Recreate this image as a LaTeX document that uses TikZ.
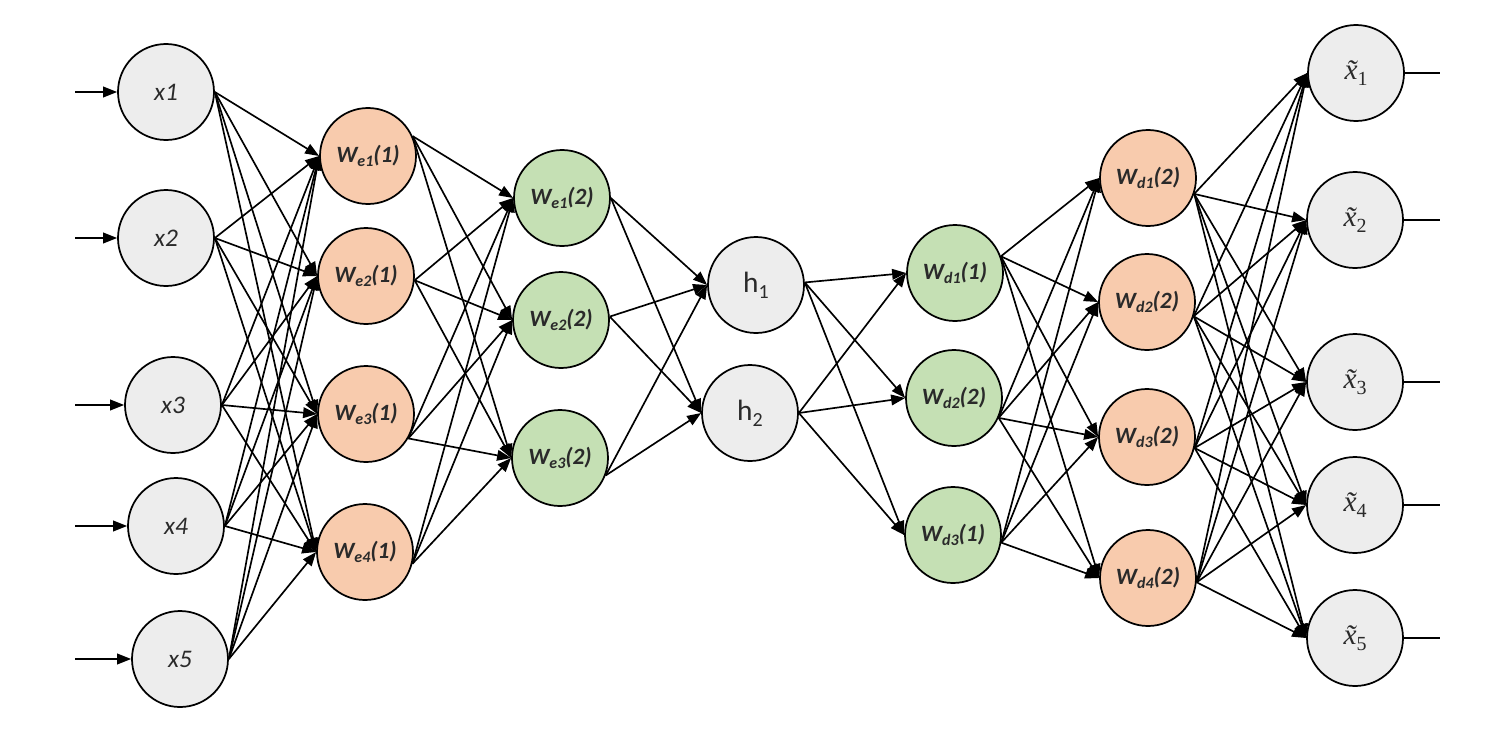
\documentclass[tikz,border=0pt]{standalone}
\usepackage{fontspec}
\setmainfont{Carlito}
\newfontfamily\tnr{Liberation Serif}
\usetikzlibrary{arrows.meta}
\definecolor{ngray}{HTML}{EDEDED}
\definecolor{norange}{HTML}{F8CBAD}
\definecolor{ngreen}{HTML}{C5E0B4}
\definecolor{txt}{HTML}{2A2A2A}
\newcommand{\wl}[2]{{\fontsize{17.5}{17.5}\selectfont\bfseries\itshape W\raisebox{-0.4ex}{\fontsize{12}{12}\selectfont #1}(#2)}}
\newcommand{\hl}[1]{{\fontsize{22}{22}\selectfont h\raisebox{-0.45ex}{\fontsize{15}{15}\selectfont #1}}}
\newcommand{\xt}[1]{{\tnr\fontsize{22}{22}\selectfont\itshape x^^^^0303\upshape\raisebox{-0.45ex}{\fontsize{15}{15}\selectfont #1}}}
\begin{document}
\begin{tikzpicture}[x=0.75pt,y=-0.75pt,
  neuron/.style={circle,draw=black,line width=1.3pt,minimum size=72pt,inner sep=0pt,text=txt},
  inp/.style={neuron,fill=ngray,font=\fontsize{19}{19}\selectfont\itshape},
  orn/.style={neuron,fill=norange},
  grn/.style={neuron,fill=ngreen},
  gry/.style={neuron,fill=ngray},
  conn/.style={line width=1.25pt,-{Triangle[length=10.5pt,width=8pt]}},
  plain/.style={line width=1.25pt}]
\useasboundingbox (0,0) rectangle (1490,736);
% input layer
\node[inp] (x1) at (166,92) {x1};
\node[inp] (x2) at (166,238) {x2};
\node[inp] (x3) at (173,405) {x3};
\node[inp] (x4) at (176,526) {x4};
\node[inp] (x5) at (180,659) {x5};
% encoder layer 1
\node[orn] (a1) at (368,156) {\wl{e1}{1}};
\node[orn] (a2) at (366,276) {\wl{e2}{1}};
\node[orn] (a3) at (366,414) {\wl{e3}{1}};
\node[orn] (a4) at (365,552) {\wl{e4}{1}};
% encoder layer 2
\node[grn] (b1) at (562,198) {\wl{e1}{2}};
\node[grn] (b2) at (561,320) {\wl{e2}{2}};
\node[grn] (b3) at (560,458) {\wl{e3}{2}};
% code
\node[gry] (h1) at (756,285) {\hl{1}};
\node[gry] (h2) at (750,413) {\hl{2}};
% decoder layer 1
\node[grn] (c1) at (955,273) {\wl{d1}{1}};
\node[grn] (c2) at (954,398) {\wl{d2}{2}};
\node[grn] (c3) at (953,535) {\wl{d3}{1}};
% decoder layer 2
\node[orn] (d1) at (1148,178) {\wl{d1}{2}};
\node[orn] (d2) at (1147,302) {\wl{d2}{2}};
\node[orn] (d3) at (1147,437) {\wl{d3}{2}};
\node[orn] (d4) at (1148,578) {\wl{d4}{2}};
% output layer
\node[gry] (y1) at (1356,73) {\xt{1}};
\node[gry] (y2) at (1355,220) {\xt{2}};
\node[gry] (y3) at (1355,382) {\xt{3}};
\node[gry] (y4) at (1355,505) {\xt{4}};
\node[gry] (y5) at (1355,638) {\xt{5}};
% free ends
\foreach \i/\yy in {1/92,2/238,3/405,4/526,5/659}{
  \coordinate (in\i) at (75,\yy);
  \draw[conn] (in\i) -- (x\i.west);
}
\foreach \i/\yy in {1/73,2/220,3/382,4/505,5/638}{
  \coordinate (out\i) at (1440,\yy);
  \draw[plain] (y\i.east) -- (out\i);
}
% connections
\foreach \i in {1,...,5}{\foreach \j in {1,...,4}{\draw[conn] (x\i.0) -- (a\j.west);}}
\foreach \i/\ang in {1/24,2/-5,3/-30,4/-14}{\foreach \j in {1,2,3}{\draw[conn] (a\i.\ang) -- (b\j.west);}}
\foreach \i/\ang in {1/0,2/4,3/-21}{\foreach \j in {1,2}{\draw[conn] (b\i.\ang) -- (h\j.west);}}
\foreach \i/\ang in {1/3,2/0}{\foreach \j in {1,2,3}{\draw[conn] (h\i.\ang) -- (c\j.west);}}
\foreach \i/\ang in {1/20,2/-24,3/-9}{\foreach \j in {1,...,4}{\draw[conn] (c\i.\ang) -- (d\j.west);}}
\foreach \i/\ang in {1/-19,2/-17,3/-13,4/-5}{\foreach \j in {1,...,5}{\draw[conn] (d\i.\ang) -- (y\j.west);}}
\end{tikzpicture}
\end{document}
